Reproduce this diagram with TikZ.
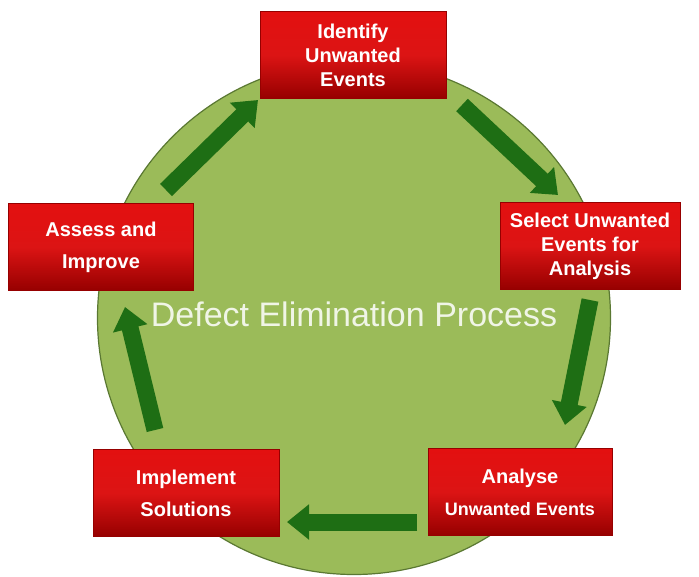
\documentclass[tikz,border=0pt]{standalone}
\usepackage{fontspec}
\setmainfont{Liberation Sans}
\usetikzlibrary{arrows.meta}
\definecolor{circ}{RGB}{155,187,89}
\definecolor{circd}{RGB}{90,120,50}
\definecolor{boxr}{RGB}{220,20,20}
\definecolor{boxd}{RGB}{150,0,0}
\definecolor{arr}{RGB}{30,110,20}
\tikzset{
 stepbox/.style={draw=boxd,line width=1pt,top color=boxr!80!red,bottom color=boxd,middle color=boxr,
   minimum width=186pt,minimum height=87pt,inner sep=2pt,align=center,text=white,font=\bfseries\fontsize{20}{24}\selectfont},
 wide/.style={font=\bfseries\fontsize{20}{32}\selectfont},
 blk/.style={line width=17pt,draw=arr,-{Triangle[width=34pt,length=22pt]},shorten >=0pt},
}
\begin{document}
\begin{tikzpicture}[x=1pt,y=-1pt]
\useasboundingbox (0,0) rectangle (699,576);
\node[circle,draw=circd,line width=1.2pt,fill=circ,minimum size=513pt,inner sep=0] (c) at (354,318) {};
\node[text=white!85!circ,font=\fontsize{34}{36}\selectfont] (t) at (354,314) {Defect Elimination Process};
\node[stepbox] (a) at (353,55) {Identify\\Unwanted\\Events};
\node[stepbox,minimum width=180pt] (b) at (590,246) {Select Unwanted\\Events for\\Analysis};
\node[stepbox,minimum width=184pt,wide] (d) at (520,492) {Analyse\\{\fontsize{18}{20}\selectfont Unwanted Events}};
\node[stepbox,wide] (e) at (186,493) {Implement\\Solutions};
\node[stepbox,minimum width=185pt,wide] (f) at (101,247) {Assess and\\Improve};
\coordinate (a1) at (462,105); \coordinate (a2) at (558,195);
\coordinate (b1) at (590,300); \coordinate (b2) at (565,425);
\coordinate (d1) at (417,522); \coordinate (d2) at (287,522);
\coordinate (e1) at (155,430); \coordinate (e2) at (125,307);
\coordinate (f1) at (166,190); \coordinate (f2) at (258,100);
\draw[blk] (a1) -- (a2);
\draw[blk] (b1) -- (b2);
\draw[blk] (d1) -- (d2);
\draw[blk] (e1) -- (e2);
\draw[blk] (f1) -- (f2);
\end{tikzpicture}
\end{document}
